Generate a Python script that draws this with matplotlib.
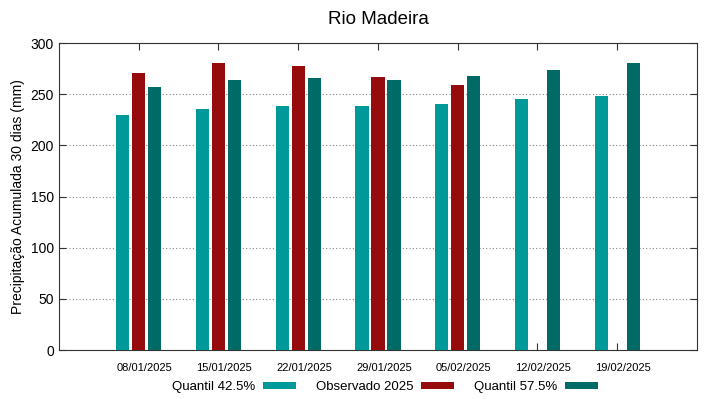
import matplotlib.pyplot as plt
import matplotlib.transforms as mtransforms
import numpy as np

plt.rcParams["font.family"] = ["Liberation Sans", "DejaVu Sans"]

datas = ["08/01/2025", "15/01/2025", "22/01/2025", "29/01/2025",
         "05/02/2025", "12/02/2025", "19/02/2025"]
q425 = [230, 236, 238, 238, 240, 245, 248.5]
obs2025 = [271, 280.5, 277.5, 267, 259, np.nan, np.nan]
q575 = [257, 264, 266, 264, 268, 273.5, 280]

cores = ["#009999", "#960c0c", "#006a66"]
x = np.arange(len(datas))
w = 0.165

fig = plt.figure(figsize=(7.19, 3.99), dpi=100)
ax = fig.add_axes([0.082, 0.1228, 0.8874, 0.7694])

ax.bar(x - 0.2, q425, w, color=cores[0], label="Quantil 42.5%", zorder=3)
ax.bar(x, obs2025, w, color=cores[1], label="Observado 2025", zorder=3)
ax.bar(x + 0.2, q575, w, color=cores[2], label="Quantil 57.5%", zorder=3)

ax.set_xlim(-1, 7)
ax.set_ylim(0, 300)
ax.set_yticks(range(0, 301, 50))
ax.set_xticks(x)
ax.set_xticklabels(datas, fontsize=8)
ax.tick_params(axis="y", labelsize=10)
ax.tick_params(direction="in", top=True, right=True, length=5, color="#333333")
ax.tick_params(axis="x", pad=9)
ax.grid(axis="y", linestyle=(0, (1, 2)), color="#888888", linewidth=0.8)
for s in ax.spines.values():
    s.set_color("#333333")

# rótulos do eixo x ficam um pouco à direita dos ticks (estilo gnuplot)
desloc = mtransforms.ScaledTranslation(0.06, 0, fig.dpi_scale_trans)
for lbl in ax.get_xticklabels():
    lbl.set_transform(lbl.get_transform() + desloc)

ax.set_ylabel("Precipitação Acumulada 30 dias (mm)", fontsize=10)
ax.set_title("Rio Madeira", fontsize=13.5, pad=14)

ax.legend(loc="center", bbox_to_anchor=(0.511, -0.121), ncol=3, frameon=False,
          markerfirst=False, fontsize=9.5, handlelength=2.5, handleheight=0.45,
          columnspacing=1.5, handletextpad=0.57)

fig.savefig("out.png", dpi=100)
